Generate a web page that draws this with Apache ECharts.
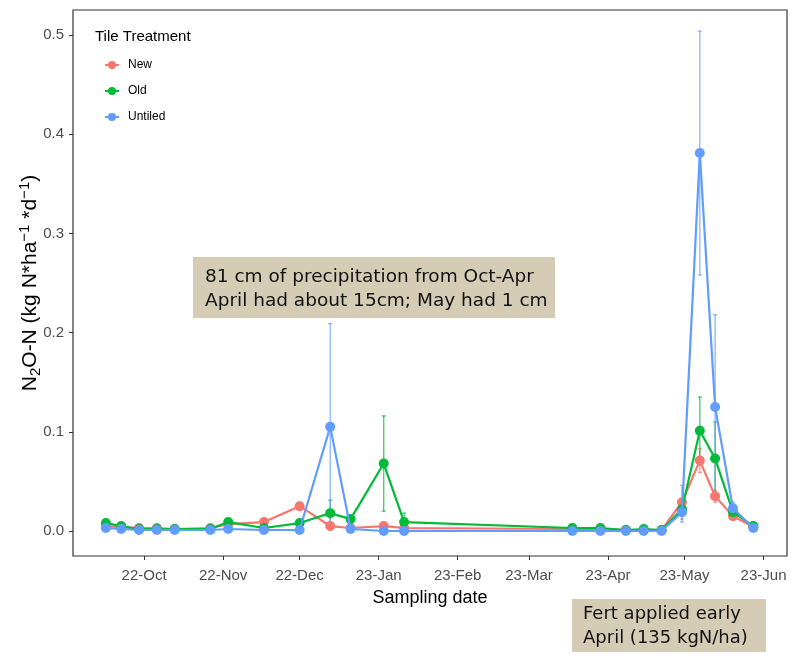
<!DOCTYPE html>
<html>
<head>
<meta charset="utf-8">
<script src="https://cdn.jsdelivr.net/npm/echarts@6/dist/echarts.min.js"></script>
<style>html,body{margin:0;padding:0;background:#fff}#c{width:802px;height:663px}</style>
</head>
<body>
<div id="c"></div>
<script>
// ---- data ----
const dates = ['2022-09-16','2022-09-22','2022-09-29','2022-10-06','2022-10-13','2022-10-27','2022-11-03','2022-11-17','2022-12-01','2022-12-13','2022-12-21','2023-01-03','2023-01-11','2023-03-18','2023-03-29','2023-04-08','2023-04-15','2023-04-22','2023-04-30','2023-05-07','2023-05-13','2023-05-20','2023-05-28'];
const seriesNames = ['New','Old','Untiled'];
const newVals     = [0.005,0.004,0.003,0.003,0.002,0.003,0.007,0.009,0.025,0.005,0.003,0.005,0.003,0.002,0.002,0.001,0.001,0.001,0.029,0.071,0.035,0.015,0.004];
const oldVals     = [0.008,0.005,0.002,0.002,0.002,0.002,0.009,0.003,0.008,0.018,0.012,0.068,0.009,0.003,0.003,0.001,0.002,0.001,0.022,0.101,0.073,0.019,0.005];
const untiledVals = [0.003,0.002,0.001,0.001,0.001,0.001,0.002,0.001,0.001,0.105,0.002,0.000,0.000,0.000,0.000,0.000,0.000,0.000,0.019,0.381,0.125,0.023,0.003];
const newSE     = [0.002,0.001,0.001,0.001,0.001,0.001,0.002,0.003,0.004,0.002,0.001,0.002,0.001,0.001,0.001,0.001,0.001,0.001,0.017,0.012,0.006,0.004,0.001];
const oldSE     = [0.002,0.001,0.001,0.001,0.001,0.001,0.003,0.001,0.002,0.013,0.003,0.048,0.009,0.001,0.001,0.001,0.001,0.001,0.006,0.034,0.037,0.005,0.001];
const untiledSE = [0.001,0.001,0.001,0.001,0.001,0.001,0.001,0.001,0.001,0.104,0.001,0.001,0.001,0.001,0.001,0.001,0.001,0.001,0.010,0.123,0.093,0.006,0.002];
const xTickDates = ['2022-10-01','2022-11-01','2022-12-01','2023-01-01','2023-02-01','2023-03-01','2023-04-01','2023-05-01','2023-06-01'];
const yTicks = [0,0.1,0.2,0.3,0.4,0.5];
const note1 = ['81 cm of precipitation from Oct-Apr','April had about 15cm; May had 1 cm'];
const note2 = ['Fert applied early','April (135 kgN/ha)'];

const colors = ['#F8766D','#00BA38','#619CFF'];
const months = ['Jan','Feb','Mar','Apr','May','Jun','Jul','Aug','Sep','Oct','Nov','Dec'];
const ts = s => Date.parse(s + 'T00:00:00Z');
const DAY = 86400000;
const xMin = ts('2022-10-01') - 27.9 * DAY;
const xMax = ts('2023-06-01') + 9.2 * DAY;

const vals = [newVals, oldVals, untiledVals];
const ses = [newSE, oldSE, untiledSE];

const series = [];
seriesNames.forEach((name, i) => {
  series.push({
    type: 'custom',
    name: name + ' SE',
    z: 1,
    silent: true,
    data: dates.map((d, k) => [ts(d), vals[i][k] - ses[i][k], vals[i][k] + ses[i][k]]),
    encode: {x: 0, y: [1, 2]},
    renderItem: function (params, api) {
      const x = api.value(0);
      const p1 = api.coord([x, api.value(2)]);
      const p2 = api.coord([x, api.value(1)]);
      const w = 2;
      const st = {stroke: colors[i], lineWidth: 1.3, opacity: 0.75};
      return {
        type: 'group',
        children: [
          {type: 'line', shape: {x1: p1[0], y1: p1[1], x2: p2[0], y2: p2[1]}, style: st},
          {type: 'line', shape: {x1: p1[0] - w, y1: p1[1], x2: p1[0] + w, y2: p1[1]}, style: st},
          {type: 'line', shape: {x1: p2[0] - w, y1: p2[1], x2: p2[0] + w, y2: p2[1]}, style: st}
        ]
      };
    }
  });
});
seriesNames.forEach((name, i) => {
  series.push({
    type: 'line',
    name: name,
    z: 3 + i,
    data: dates.map((d, k) => [ts(d), vals[i][k]]),
    symbol: 'circle',
    symbolSize: 10,
    lineStyle: {width: 2.2, color: colors[i]},
    itemStyle: {color: colors[i]},
    emphasis: {disabled: true},
    animation: false
  });
});

const FF = 'Liberation Sans, Arial, sans-serif';
const chart = echarts.init(document.getElementById('c'), null, {renderer: 'canvas'});
chart.setOption({
  animation: false,
  backgroundColor: '#fff',
  textStyle: {fontFamily: FF},
  color: colors,
  title: {
    text: 'Tile Treatment', left: 90, top: 24,
    textStyle: {fontSize: 15, fontWeight: 'normal', color: '#000', fontFamily: FF}
  },
  legend: {
    data: seriesNames,
    orient: 'vertical', left: 99, top: 54,
    itemWidth: 14, itemHeight: 10, itemGap: 14,
    textStyle: {fontSize: 12, color: '#000', padding: [0, 0, 0, 4]},
    selectedMode: false
  },
  grid: {left: 73, top: 10, right: 15, bottom: 107, outerBoundsMode: 'none', containLabel: false,
         show: true, borderColor: '#333', borderWidth: 1.2, backgroundColor: '#fff'},
  xAxis: {
    type: 'value', min: xMin, max: xMax,
    name: 'Sampling date', nameLocation: 'middle', nameGap: 33, nameMoveOverlap: false,
    nameTextStyle: {fontSize: 18, color: '#000'},
    axisLine: {show: false, onZero: false},
    splitLine: {show: false},
    axisTick: {show: true, length: 4, lineStyle: {color: '#333'}, customValues: xTickDates.map(ts)},
    axisLabel: {
      color: '#4D4D4D', fontSize: 15, margin: 12,
      customValues: xTickDates.map(ts),
      formatter: v => { const d = new Date(v); return String(d.getUTCFullYear()).slice(2) + '-' + months[d.getUTCMonth()]; }
    }
  },
  yAxis: {
    type: 'value', min: -0.0252, max: 0.5252,
    name: 'N{sub|2}O-N (kg N*ha{sup|\u22121} *d{sup|\u22121})', nameLocation: 'middle', nameGap: 30, nameMoveOverlap: false,
    nameTextStyle: {
      fontSize: 21, color: '#000', lineHeight: 26,
      rich: {
        sub: {fontSize: 15, verticalAlign: 'bottom', lineHeight: 26, color: '#000'},
        sup: {fontSize: 15, verticalAlign: 'top', lineHeight: 26, color: '#000'}
      }
    },
    axisLine: {show: false, onZero: false},
    splitLine: {show: false},
    axisTick: {show: true, length: 4, lineStyle: {color: '#333'}, customValues: yTicks},
    axisLabel: {color: '#4D4D4D', fontSize: 15, margin: 9, customValues: yTicks, formatter: v => v.toFixed(1)}
  },
  graphic: [
    {type: 'rect', left: 193, top: 257, shape: {width: 362, height: 61}, style: {fill: '#D5CCB6'}, z: 100},
    {type: 'text', left: 205, top: 265, z: 101,
     style: {text: note1.join('\n'), fontSize: 18.5, lineHeight: 24, fill: '#111', fontFamily: 'DejaVu Sans, sans-serif'}},
    {type: 'rect', left: 572, top: 599, shape: {width: 194, height: 53}, style: {fill: '#D5CCB6'}, z: 100},
    {type: 'text', left: 583, top: 602, z: 101,
     style: {text: note2.join('\n'), fontSize: 18, lineHeight: 24, fill: '#111', fontFamily: 'DejaVu Sans, sans-serif'}}
  ],
  series: series
});
</script>
</body>
</html>
